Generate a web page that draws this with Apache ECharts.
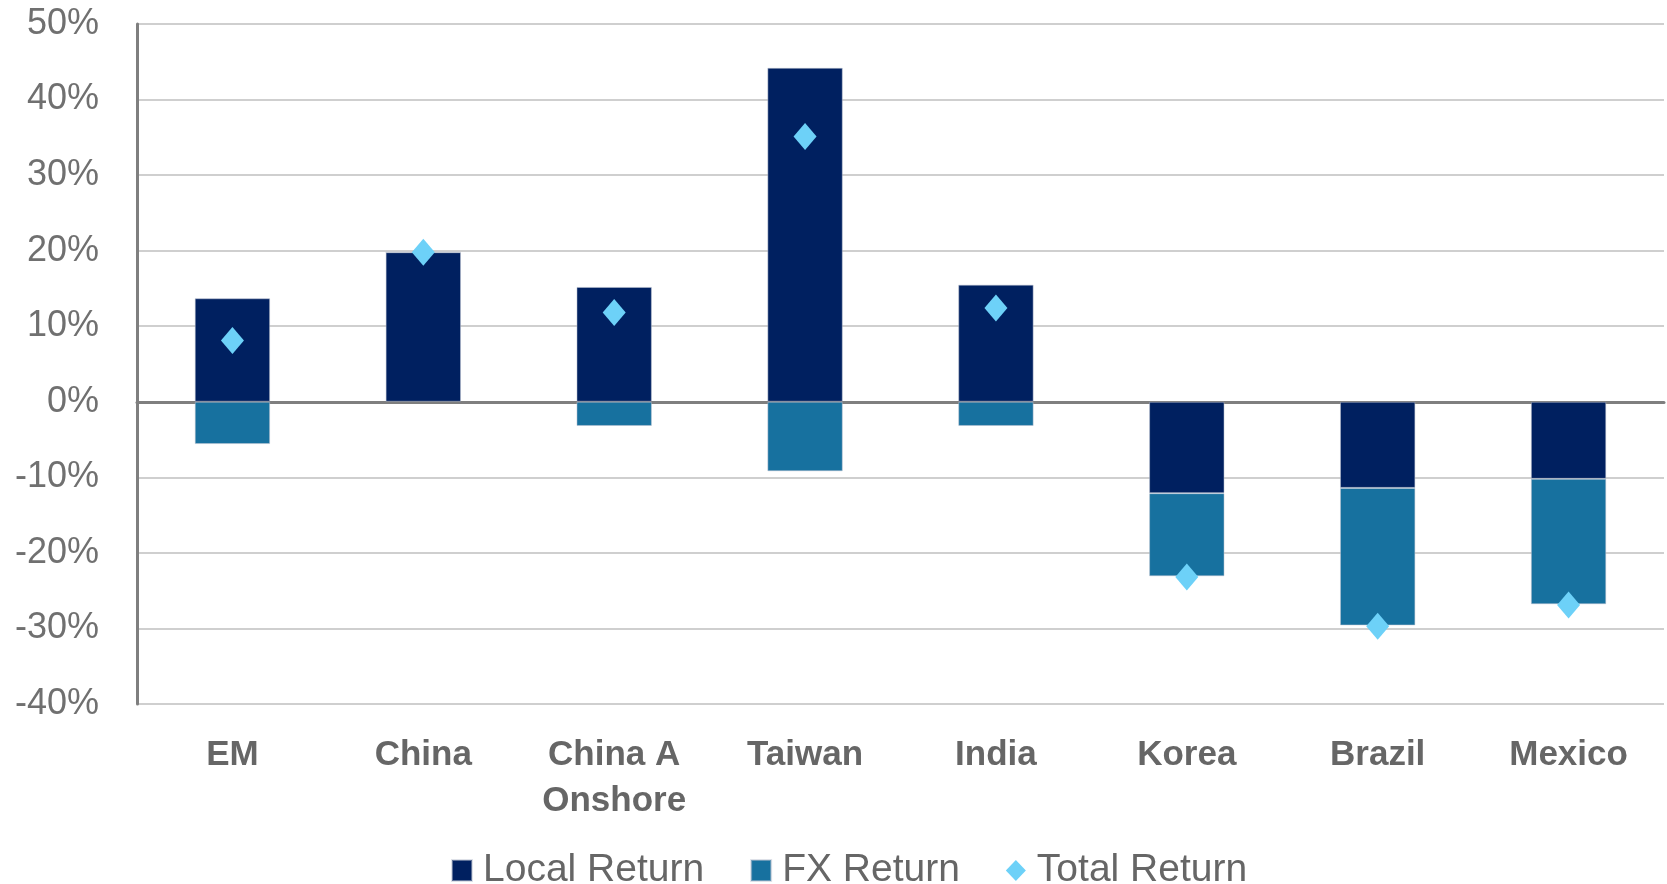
<!DOCTYPE html>
<html>
<head>
<meta charset="utf-8">
<script src="https://cdn.jsdelivr.net/npm/echarts@6/dist/echarts.min.js"></script>
<style>
html,body{margin:0;padding:0;background:#fff;}
#c{width:1667px;height:884px;}
</style>
</head>
<body>
<div id="c"></div>
<script>
const categories = ['EM', 'China', 'China A\nOnshore', 'Taiwan', 'India', 'Korea', 'Brazil', 'Mexico'];
const localReturn = [13.7, 19.8, 15.2, 44.2, 15.5, -12.1, -11.4, -10.2];
const fxReturn = [-5.6, 0, -3.2, -9.2, -3.2, -11.0, -18.2, -16.6];
const totalReturn = [8.1, 19.8, 11.8, 35.1, 12.4, -23.2, -29.7, -26.9];
const yTicks = { min: -40, max: 50, interval: 10 };

const chart = echarts.init(document.getElementById('c'));
const FONT = '"Liberation Sans", Arial, sans-serif';
chart.setOption({
  animation: false,
  backgroundColor: '#fff',
  grid: { left: 137, right: 3, top: 24, bottom: 180, containLabel: false },
  legend: {
    top: 846,
    left: 446,
    itemGap: 46,
    itemWidth: 20,
    itemHeight: 21,
    textStyle: { fontFamily: FONT, fontSize: 39, color: '#666666', padding: [0, 0, 0, 6] },
    data: [
      { name: 'Local Return', icon: 'rect' },
      { name: 'FX Return', icon: 'rect' },
      { name: 'Total Return', icon: 'diamond' }
    ]
  },
  xAxis: {
    type: 'category',
    data: categories,
    axisLine: { onZero: true, lineStyle: { color: '#7f7f7f', width: 3 } },
    axisTick: { show: false },
    axisLabel: {
      interval: 0,
      margin: 28,
      fontFamily: FONT,
      fontSize: 35,
      fontWeight: 'bold',
      color: '#666666',
      lineHeight: 46
    }
  },
  yAxis: {
    type: 'value',
    min: yTicks.min,
    max: yTicks.max,
    interval: yTicks.interval,
    axisLine: { show: true, lineStyle: { color: '#7f7f7f', width: 3 } },
    axisTick: { show: false },
    axisLabel: {
      margin: 38,
      fontFamily: FONT,
      fontSize: 36,
      color: '#707070',
      formatter: v => v + '%'
    },
    splitLine: { lineStyle: { color: '#cfcfcf', width: 2 } }
  },
  series: [
    {
      name: 'Local Return',
      type: 'bar',
      stack: 'r',
      barWidth: '39.5%',
      data: localReturn,
      itemStyle: { color: '#002060', borderColor: 'rgba(190,195,210,0.5)', borderWidth: 1 }
    },
    {
      name: 'FX Return',
      type: 'bar',
      stack: 'r',
      barWidth: '39.5%',
      data: fxReturn,
      itemStyle: { color: '#17719F', borderColor: 'rgba(190,195,210,0.5)', borderWidth: 1 }
    },
    {
      name: 'Total Return',
      type: 'scatter',
      symbol: 'diamond',
      symbolSize: [23, 27],
      data: totalReturn,
      itemStyle: { color: '#6DD1F8', opacity: 1 },
      z: 5
    }
  ]
});
</script>
</body>
</html>
